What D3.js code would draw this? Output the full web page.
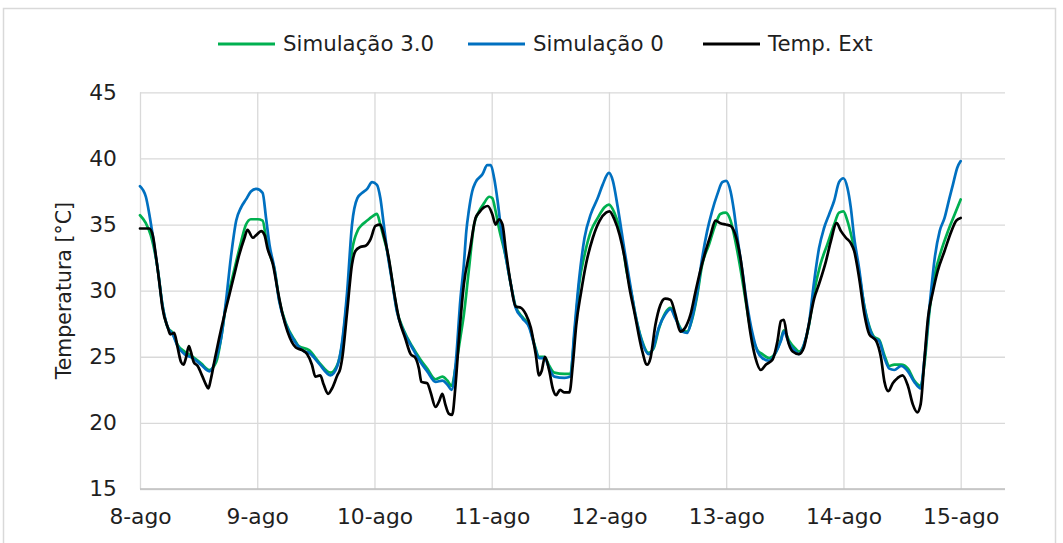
<!DOCTYPE html>
<html>
<head>
<meta charset="utf-8">
<script src="https://cdn.jsdelivr.net/npm/d3@7"></script>
<style>
  html, body { margin: 0; padding: 0; background: #ffffff; }
  svg { display: block; }
</style>
</head>
<body>
<svg id="chart" width="1063" height="543"></svg>
<script>
// ---- Data (hours from 8-ago 00:00, temperature in °C) ----
const dayLabels = ["8-ago", "9-ago", "10-ago", "11-ago", "12-ago", "13-ago", "14-ago", "15-ago"];
const yTicks = [15, 20, 25, 30, 35, 40, 45];
const seriesNames = ["Simulação 3.0", "Simulação 0", "Temp. Ext"];

const sim30Hours = [0,1.2,2.2,3.6,4.6,5.7,6.7,7.7,9.1,10.8,12.5,14.2,15.6,16.6,17.6,18.6,19.7,20.7,21.7,22.7,24.1,25.1,25.8,26.8,27.5,28.5,29.9,31.6,32.5,34.6,36.6,39.0,40.4,41.4,42.4,43.4,44.5,45.5,46.5,47.5,48.5,49.2,49.9,50.6,51.6,52.6,54.0,55.7,57.4,58.8,60.5,61.9,62.9,63.8,64.6,65.6,66.3,67.3,68.4,69.4,70.4,71.5,72.1,72.8,73.5,74.9,75.9,76.9,78.3,79.7,80.7,81.7,82.8,83.8,84.8,86.9,88.1,88.9,89.9,91.0,92.3,93.7,95.1,96.0,97.1,98.5,99.6,100.6,101.4,102.7,104.1,105.1,106.2,107.5,108.6,109.6,111.0,112.0,113.0,114.0,115.1,116.5,117.8,118.8,119.9,120.9,121.9,122.9,124.0,125.0,126.4,127.4,128.8,130.1,131.2,131.8,132.9,134.2,134.9,135.9,136.9,138.0,139.3,140.7,142.1,143.1,144.0,144.8,145.9,146.9,148.3,149.3,150.3,151.3,152.4,153.4,154.4,155.8,157.2,158.5,159.8,160.6,161.6,162.7,164.0,165.4,166.8,168.0];
const sim30Temp  = [35.7,35.1,34.2,31.7,28.9,27.2,26.8,25.9,25.4,25.0,24.5,24.0,24.6,26.4,28.9,30.5,32.2,33.7,35.0,35.4,35.4,35.3,34.0,32.5,31.7,29.3,27.5,26.3,25.8,25.5,24.6,23.8,24.4,26.0,29.4,33.0,34.5,35.0,35.3,35.6,35.8,35.0,34.0,33.0,30.8,28.5,27.0,25.8,24.8,24.1,23.3,23.5,23.2,22.8,24.2,26.5,28.2,31.5,35.0,36.0,36.6,37.1,37.0,36.0,34.7,32.5,30.5,28.8,28.0,27.3,26.0,25.0,25.0,24.3,23.8,23.7,23.7,26.5,30.5,32.7,34.5,35.5,36.3,36.5,35.9,34.2,31.5,29.8,28.2,26.3,25.3,25.6,27.1,28.3,28.7,28.0,27.0,26.9,27.8,29.5,32.0,33.5,35.0,35.8,35.9,35.3,33.7,31.7,29.2,27.0,25.5,25.2,24.9,25.3,26.3,27.0,26.2,25.6,25.4,25.9,27.3,29.9,32.0,33.5,35.0,35.9,36.0,35.3,33.7,32.0,28.8,27.3,26.5,26.3,25.1,24.3,24.4,24.4,24.1,23.2,22.8,24.5,28.4,31.2,33.0,34.5,35.8,36.9];

const sim0Hours = [0,1.2,1.9,2.6,3.6,4.6,5.7,6.7,7.7,9.1,10.8,12.5,14.2,15.6,16.6,17.6,18.6,19.7,20.7,21.7,22.7,23.8,25.1,25.8,26.5,27.5,28.5,29.9,31.6,33.7,34.6,36.6,39.0,40.4,41.4,42.4,43.4,44.5,45.5,46.5,47.5,48.5,49.2,49.9,50.6,51.6,52.6,54.0,55.7,57.4,58.8,60.5,61.9,62.9,63.8,64.6,65.6,66.3,66.8,67.3,68.0,68.7,70.1,71.1,71.8,72.5,73.2,73.8,74.9,75.9,76.9,78.3,79.7,80.7,81.7,82.8,83.8,84.8,86.9,88.1,88.9,89.9,91.0,92.3,93.7,94.7,96.0,96.8,97.8,99.2,100.6,101.4,102.7,104.1,105.1,106.2,107.5,108.6,109.6,111.0,112.0,113.0,114.0,115.1,116.1,117.1,118.2,119.2,120.0,120.9,121.6,122.3,123.3,124.3,125.3,126.4,127.4,128.8,130.1,131.2,131.8,132.9,134.2,134.9,135.9,136.9,138.0,139.0,140.0,141.1,142.1,143.1,144.0,144.8,145.5,146.2,147.2,148.3,149.3,150.3,151.3,152.4,153.4,154.4,155.8,157.2,158.5,159.8,160.6,161.6,162.7,163.7,164.7,165.7,166.4,167.3,168.0];
const sim0Temp  = [37.9,37.1,35.8,34.2,31.7,28.9,27.2,26.7,25.8,25.2,24.9,24.4,23.9,24.9,26.4,29.2,32.5,35.3,36.3,36.9,37.5,37.7,37.4,35.5,33.5,31.7,29.2,27.4,26.2,25.4,25.3,24.5,23.6,24.3,26.2,29.9,35.0,37.0,37.4,37.7,38.2,38.0,37.0,35.0,33.0,30.7,28.4,26.9,25.7,24.6,23.9,23.1,23.2,22.9,22.5,24.4,29.4,32.0,34.5,36.0,37.5,38.2,38.8,39.5,39.5,38.5,36.8,35.0,32.5,30.5,28.7,27.9,27.2,25.9,24.9,24.9,24.1,23.5,23.4,23.5,26.9,30.9,34.0,35.8,37.0,38.0,38.9,38.3,36.3,33.0,29.9,28.2,26.2,25.2,25.7,27.2,28.2,28.6,27.9,26.9,26.8,27.9,29.7,32.5,34.5,36.0,37.3,38.2,38.3,37.5,36.0,34.0,31.5,28.9,26.9,25.4,24.9,24.7,25.3,26.2,26.9,26.0,25.4,25.2,25.9,27.4,30.7,33.2,34.7,35.8,36.8,38.2,38.5,37.8,36.3,34.0,31.7,28.7,27.2,26.4,26.2,24.9,24.1,24.0,24.3,23.9,23.1,22.6,24.9,28.7,32.5,34.5,35.5,37.0,38.0,39.3,39.8];

const extHours = [0,1.9,2.6,3.3,4.0,4.6,5.7,6.2,7.0,7.7,8.4,8.9,9.4,10.0,10.4,11.0,11.8,12.8,13.5,14.0,14.5,15.2,16.2,17.3,18.3,19.3,20.3,21.4,22.0,23.1,23.8,24.8,25.5,26.1,27.2,28.2,29.2,30.2,31.9,33.2,34.2,35.2,35.9,36.9,37.6,38.5,39.3,40.4,41.0,41.4,42.4,43.4,44.1,45.1,46.2,47.2,48.2,49.2,49.9,50.9,52.0,53.0,54.3,55.4,56.4,57.1,57.6,58.8,59.5,60.5,61.2,61.9,62.5,63.2,63.9,64.6,65.3,66.3,67.5,68.7,69.4,70.4,71.2,72.1,72.8,73.5,74.2,74.9,75.9,76.9,78.0,79.0,80.0,81.0,81.7,82.2,82.9,83.8,84.5,85.2,86.0,86.9,87.9,88.6,89.3,90.3,91.3,92.7,94.1,95.4,96.1,97.1,98.2,99.2,100.2,101.3,102.7,103.8,104.5,105.5,106.5,107.5,108.6,109.6,110.6,111.6,112.7,113.7,114.7,115.8,116.8,117.8,118.8,119.9,120.9,121.9,122.9,124.0,125.0,126.0,127.1,128.1,129.5,130.5,131.2,131.8,132.5,133.6,134.9,135.9,136.9,138.0,139.0,140.4,141.4,142.6,143.5,144.5,145.5,146.2,147.2,148.3,149.3,150.7,151.7,152.4,153.2,154.1,155.1,156.1,157.2,158.2,159.1,159.8,160.6,161.3,162.3,163.3,164.7,166.1,167.1,168.0];
const extTemp  = [34.7,34.7,34.2,32.5,30.5,28.7,27.2,26.7,26.8,25.7,24.6,24.4,24.9,25.8,25.4,24.6,24.3,23.5,22.9,22.6,23.3,24.6,26.4,28.2,29.7,31.2,32.7,34.0,34.6,34.0,34.2,34.5,34.2,33.2,32.0,30.0,28.2,26.9,25.7,25.5,25.2,24.4,23.5,23.6,22.9,22.2,22.6,23.6,24.1,24.9,28.4,32.0,33.0,33.3,33.4,33.9,34.9,35.0,34.2,32.5,29.9,27.9,26.4,25.2,24.9,24.1,23.1,23.0,22.3,21.2,21.6,22.2,21.4,20.7,20.6,22.9,26.4,30.5,33.0,35.5,35.9,36.3,36.4,35.8,35.0,35.4,35.0,33.0,30.5,28.8,28.7,28.2,27.2,25.2,23.6,23.9,25.0,23.9,22.6,22.1,22.5,22.3,22.3,24.4,27.4,29.9,32.0,34.0,35.3,35.9,36.0,35.4,34.2,32.5,30.2,28.2,25.6,24.4,24.9,27.4,28.9,29.4,29.3,28.2,26.9,27.2,28.2,29.9,31.5,33.0,34.2,35.3,35.1,35.0,34.9,34.2,32.5,29.4,26.7,24.9,24.0,24.4,24.8,26.2,27.7,27.8,26.4,25.4,25.2,25.7,27.4,29.4,30.5,32.2,33.7,35.1,34.5,34.0,33.6,33.0,31.0,28.2,26.7,26.2,24.9,23.1,22.4,23.0,23.4,23.6,22.8,21.4,20.8,21.4,24.9,27.9,29.9,31.5,33.0,34.5,35.3,35.5];

// ---- Layout ----
const svg = d3.select("#chart");
const plotLeft = 140, plotRight = 1005, plotTop = 92.3, plotBottom = 489;
const dayPx = 117.24;
const xMaxHours = (plotRight - plotLeft) / dayPx * 24;

const x = d3.scaleLinear().domain([0, xMaxHours]).range([plotLeft, plotRight]);
const y = d3.scaleLinear().domain([15, 45]).range([plotBottom, plotTop]);

const gridColor = "#d9d9d9";
const textColor = "#1f1f1f";
const font = "DejaVu Sans, sans-serif";

// Outer chart border
svg.append("rect")
  .attr("x", 3.5).attr("y", 8.5)
  .attr("width", 1052).attr("height", 545)
  .attr("fill", "#ffffff")
  .attr("stroke", gridColor).attr("stroke-width", 1.5);

// Horizontal gridlines + y tick labels
const yAxis = d3.axisLeft(y).tickValues(yTicks).tickSize(-(plotRight - plotLeft)).tickPadding(23);
const gy = svg.append("g").attr("transform", `translate(${plotLeft},0)`).call(yAxis);
gy.select(".domain").remove();
gy.selectAll(".tick line").attr("stroke", gridColor).attr("stroke-width", 1.3);
gy.selectAll(".tick text").attr("fill", textColor).attr("font-family", font).attr("font-size", 21.8);

// Vertical gridlines (one per day) + x tick labels
const dayTicks = dayLabels.map((d, i) => i * 24);
const xAxis = d3.axisBottom(x).tickValues(dayTicks).tickFormat((d, i) => dayLabels[i])
  .tickSize(-(plotBottom - plotTop)).tickPadding(20);
const gx = svg.append("g").attr("transform", `translate(0,${plotBottom})`).call(xAxis);
gx.select(".domain").remove();
gx.selectAll(".tick line").attr("stroke", gridColor).attr("stroke-width", 1.3);
gx.selectAll(".tick text").attr("fill", textColor).attr("font-family", font).attr("font-size", 21.8);

// Bottom axis line
svg.append("line")
  .attr("x1", plotLeft).attr("x2", plotRight).attr("y1", plotBottom).attr("y2", plotBottom)
  .attr("stroke", "#bfbfbf").attr("stroke-width", 1.3);

// Y axis title
svg.append("text")
  .attr("transform", `translate(71,${(plotTop + plotBottom) / 2}) rotate(-90)`)
  .attr("text-anchor", "middle")
  .attr("fill", textColor).attr("font-family", font).attr("font-size", 20.5)
  .text("Temperatura [°C]");

// Series lines
const series = [
  { name: seriesNames[0], hours: sim30Hours, temps: sim30Temp, color: "#00b050" },
  { name: seriesNames[1], hours: sim0Hours, temps: sim0Temp, color: "#0070c0" },
  { name: seriesNames[2], hours: extHours, temps: extTemp, color: "#000000" }
];

const line = d3.line()
  .x(d => x(d[0]))
  .y(d => y(d[1]))
  .curve(d3.curveMonotoneX);

series.forEach(s => {
  const pts = s.hours.map((h, i) => [h, s.temps[i]]);
  svg.append("path")
    .datum(pts)
    .attr("fill", "none")
    .attr("stroke", s.color)
    .attr("stroke-width", 2.7)
    .attr("stroke-linejoin", "round")
    .attr("stroke-linecap", "round")
    .attr("d", line);
});

// Legend
const legendX = [218, 468, 703];
const legend = svg.append("g");
series.forEach((s, i) => {
  legend.append("line")
    .attr("x1", legendX[i]).attr("x2", legendX[i] + 57)
    .attr("y1", 44).attr("y2", 44)
    .attr("stroke", s.color).attr("stroke-width", 3);
  legend.append("text")
    .attr("x", legendX[i] + 65).attr("y", 44)
    .attr("dy", "0.35em")
    .attr("fill", textColor).attr("font-family", font).attr("font-size", 21.3)
    .text(s.name);
});
</script>
</body>
</html>
